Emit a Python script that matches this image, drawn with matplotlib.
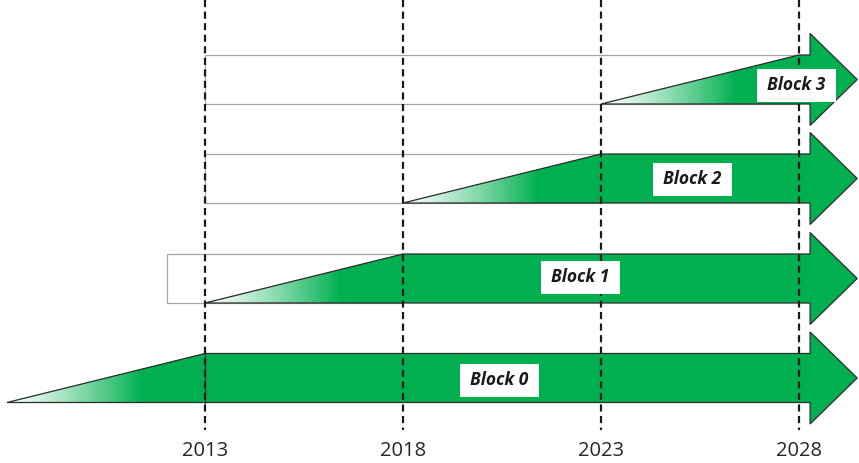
import numpy as np
import matplotlib
matplotlib.use("Agg")
import matplotlib.pyplot as plt
from matplotlib.patches import Polygon, Rectangle

# data
blocks = ["Block 0", "Block 1", "Block 2", "Block 3"]
ramp_start = [2008.0, 2013.0, 2018.0, 2023.0]
ramp_end = [2013.0, 2018.0, 2023.0, 2028.0]
outline_start = [None, 2012.05, 2013.0, 2013.0]
years = [2013, 2018, 2023, 2028]

# layout (pixel-ish units on y, years on x)
px_per_year = 39.6
x0 = 2013 - 205 / px_per_year
x1 = 2013 + 654 / px_per_year
lane_y = [378, 278.5, 178.5, 79.5]
half_h = 24.5
head_half = 46
head_x = 2028.28
tip_x = 2029.47
label_x = [2020.43, 2022.48, 2025.31, 2027.94]
label_dy = [2, -1, 1, 5.5]
green = "#00B050"

fig = plt.figure(figsize=(8.59, 4.63), dpi=100)
ax = fig.add_axes([0, 0, 1, 1])
ax.set_xlim(x0, x1)
ax.set_ylim(463, 0)
ax.axis("off")

for i, name in enumerate(blocks):
    yc = lane_y[i]
    top, bot = yc - half_h, yc + half_h
    rs, re = ramp_start[i], ramp_end[i]

    # grey frame behind the ramp
    if outline_start[i] is not None:
        ax.add_patch(Rectangle((outline_start[i], top), re - outline_start[i],
                               bot - top, fill=False, ec="#a6a6a6", lw=0.9, zorder=1))

    shape = [(rs, bot), (re, top), (head_x, top), (head_x, yc - head_half), (tip_x, yc),
             (head_x, yc + head_half), (head_x, bot)]
    ax.add_patch(Polygon(shape, closed=True, fc=green, ec="none", zorder=2))

    # gradient on the ramp
    tri = Polygon([(rs, bot), (re, top), (re, bot)], closed=True, fc="none", ec="none")
    ax.add_patch(tri)
    t = np.linspace(0, 1, 300)
    a = np.clip(t / 0.68, 0, 1) ** 1.2
    g = np.array(matplotlib.colors.to_rgb(green))
    img = (1 - a)[:, None] * np.array([1, 1, 1]) + a[:, None] * g
    img = np.tile(img[None, :, :], (10, 1, 1))
    im = ax.imshow(img, extent=(rs, re + 0.02, bot, top), aspect="auto", zorder=3,
                   interpolation="bilinear")
    im.set_clip_path(tri)

    ax.add_patch(Polygon(shape, closed=True, fc="none", ec="#2b2b2b", lw=0.9, zorder=4,
                         joinstyle="miter"))
    if i == 0:
        ax.plot([re, re], [top, bot], color="#2b2b2b", lw=0.9, zorder=4)

    # label
    bw, bh = 79 / px_per_year, 33
    ly = yc + label_dy[i]
    ax.add_patch(Rectangle((label_x[i] - bw / 2, ly - bh / 2), bw, bh, fc="white",
                           ec="none", zorder=6))
    ax.text(label_x[i], ly, name, ha="center", va="center", fontsize=12.5,
            family="Open Sans", fontweight="bold", fontstyle="italic", color="#1a1a1a", zorder=7)

for yr in years:
    ax.plot([yr, yr], [0, 430], color="#1a1a1a", lw=1.6, ls=(0, (3.2, 2)), zorder=5)
    ax.text(yr, 451, str(yr), ha="center", va="center", fontsize=14.5, family="Open Sans",
            color="#262626")

fig.savefig("out.png", dpi=100)
